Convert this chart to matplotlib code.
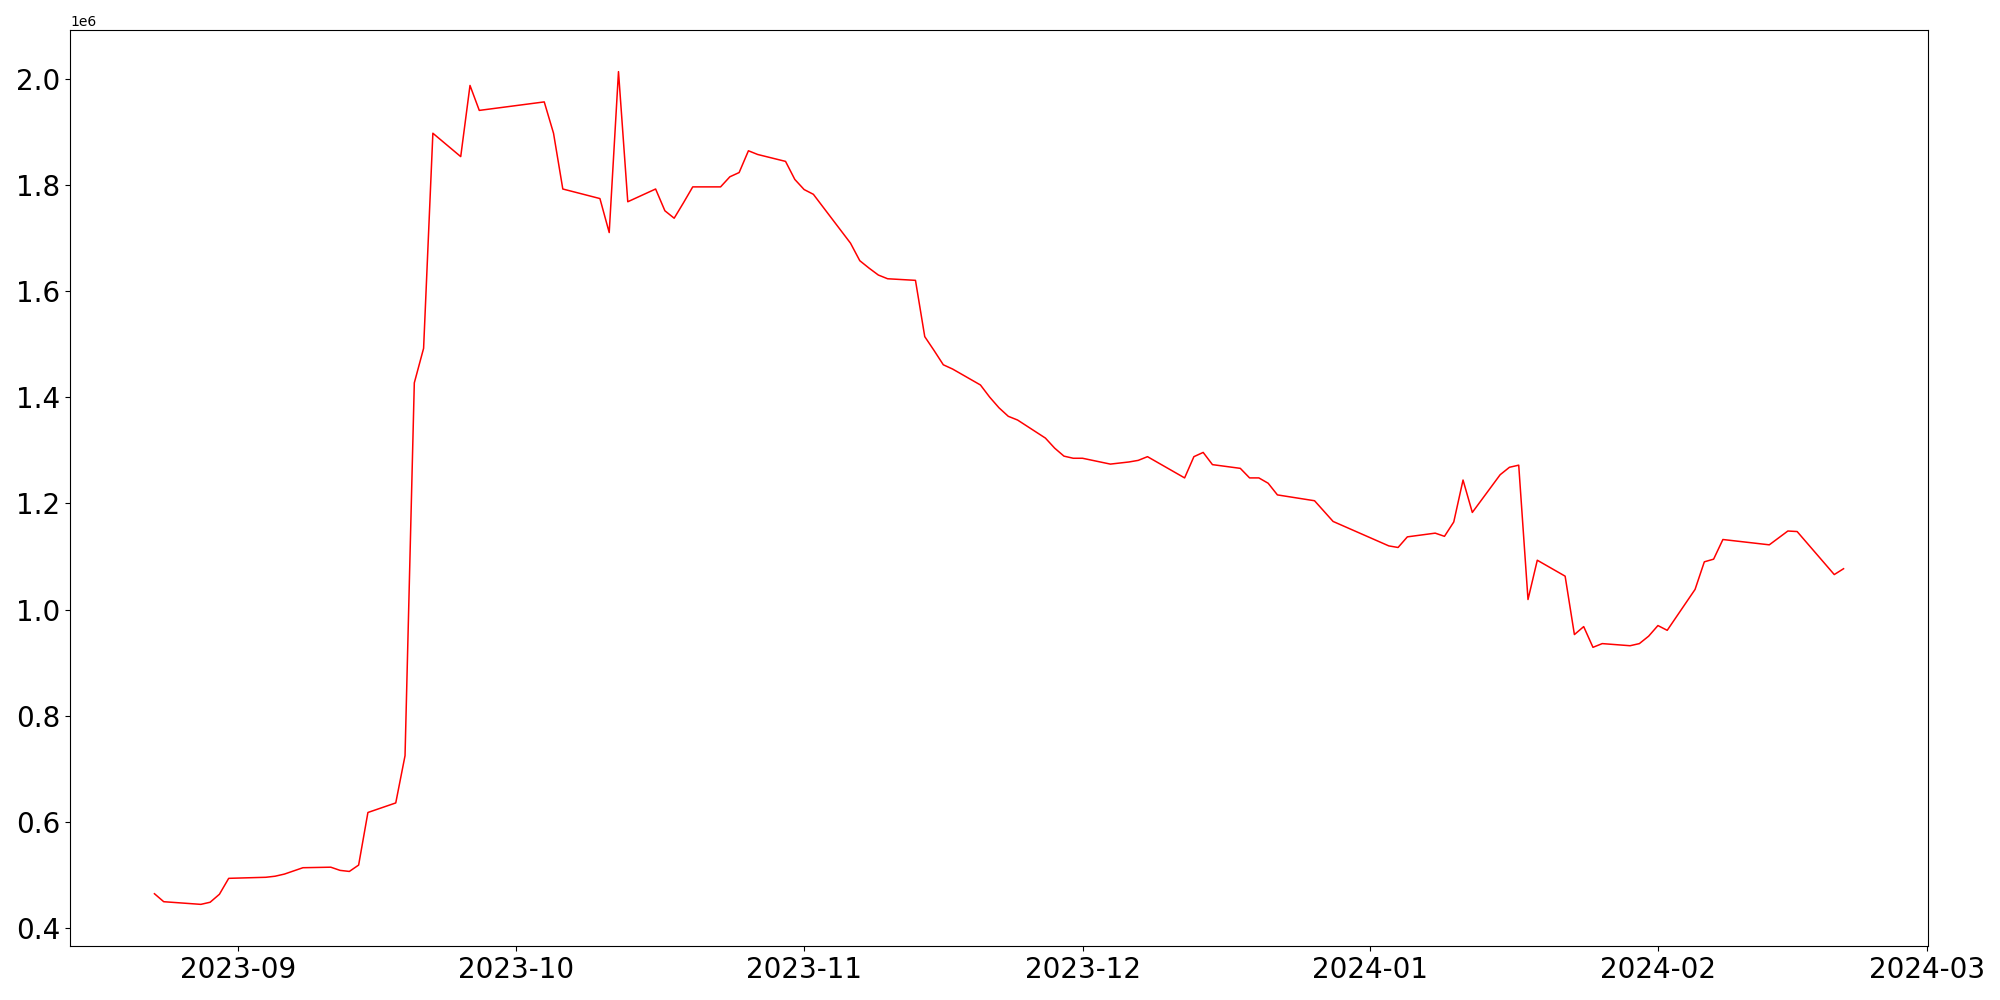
import matplotlib
matplotlib.use("Agg")
import matplotlib.pyplot as plt
import pandas as pd

dates = [
    "2023-08-23", "2023-08-24", "2023-08-28", "2023-08-29", "2023-08-30", "2023-08-31",
    "2023-09-04", "2023-09-05", "2023-09-06", "2023-09-07", "2023-09-08",
    "2023-09-11", "2023-09-12", "2023-09-13", "2023-09-14", "2023-09-15",
    "2023-09-18", "2023-09-19", "2023-09-20", "2023-09-21", "2023-09-22",
    "2023-09-25", "2023-09-26", "2023-09-27",
    "2023-10-04", "2023-10-05", "2023-10-06",
    "2023-10-10", "2023-10-11", "2023-10-12", "2023-10-13",
    "2023-10-16", "2023-10-17", "2023-10-18", "2023-10-19", "2023-10-20",
    "2023-10-23", "2023-10-24", "2023-10-25", "2023-10-26", "2023-10-27",
    "2023-10-30", "2023-10-31", "2023-11-01", "2023-11-02",
    "2023-11-06", "2023-11-07", "2023-11-08", "2023-11-09", "2023-11-10",
    "2023-11-13", "2023-11-14", "2023-11-15", "2023-11-16", "2023-11-17",
    "2023-11-20", "2023-11-21", "2023-11-22", "2023-11-23", "2023-11-24",
    "2023-11-27", "2023-11-28", "2023-11-29", "2023-11-30", "2023-12-01",
    "2023-12-04", "2023-12-05", "2023-12-06", "2023-12-07", "2023-12-08",
    "2023-12-12", "2023-12-13", "2023-12-14", "2023-12-15",
    "2023-12-18", "2023-12-19", "2023-12-20", "2023-12-21", "2023-12-22",
    "2023-12-26", "2023-12-28",
    "2024-01-03", "2024-01-04", "2024-01-05",
    "2024-01-08", "2024-01-09", "2024-01-10", "2024-01-11", "2024-01-12",
    "2024-01-15", "2024-01-16", "2024-01-17", "2024-01-18", "2024-01-19",
    "2024-01-22", "2024-01-23", "2024-01-24", "2024-01-25", "2024-01-26",
    "2024-01-29", "2024-01-30", "2024-01-31", "2024-02-01", "2024-02-02",
    "2024-02-05", "2024-02-06", "2024-02-07", "2024-02-08",
    "2024-02-13", "2024-02-15", "2024-02-16",
    "2024-02-20", "2024-02-21",
]

values = [
    0.465, 0.450, 0.445, 0.449, 0.464, 0.494,
    0.496, 0.498, 0.502, 0.508, 0.514,
    0.515, 0.509, 0.507, 0.519, 0.618,
    0.636, 0.725, 1.427, 1.492, 1.897,
    1.853, 1.987, 1.940,
    1.956, 1.897, 1.792,
    1.774, 1.710, 2.013, 1.768,
    1.792, 1.751, 1.737, 1.766, 1.796,
    1.796, 1.815, 1.823, 1.864, 1.857,
    1.844, 1.810, 1.791, 1.782,
    1.690, 1.657, 1.643, 1.630, 1.623,
    1.620, 1.514, 1.488, 1.461, 1.453,
    1.423, 1.400, 1.380, 1.364, 1.357,
    1.323, 1.304, 1.289, 1.285, 1.285,
    1.274, 1.276, 1.278, 1.281, 1.288,
    1.248, 1.288, 1.296, 1.273,
    1.266, 1.248, 1.248, 1.238, 1.216,
    1.205, 1.166,
    1.120, 1.117, 1.137,
    1.144, 1.138, 1.165, 1.244, 1.183,
    1.254, 1.268, 1.272, 1.019, 1.093,
    1.063, 0.953, 0.968, 0.929, 0.936,
    0.932, 0.936, 0.950, 0.970, 0.961,
    1.038, 1.090, 1.095, 1.132,
    1.122, 1.148, 1.147,
    1.066, 1.077,
]

x = pd.to_datetime(dates)
y = [v * 1e6 for v in values]

fig, ax = plt.subplots(figsize=(20, 10), dpi=100)
fig.subplots_adjust(left=0.035, right=0.964, top=0.97, bottom=0.054)
ax.plot(x, y, color="red", linewidth=1.1)
ax.tick_params(axis="both", labelsize=20)
fig.savefig("out.png", dpi=100)
